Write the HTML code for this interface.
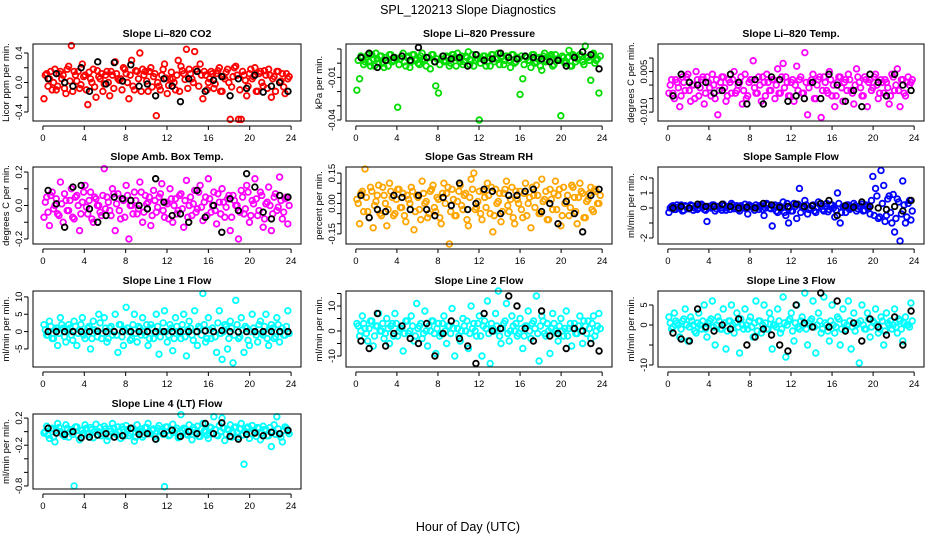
<!DOCTYPE html>
<html><head><meta charset="utf-8"><style>
html,body{margin:0;padding:0;background:#fff;}
svg{display:block;font-family:"Liberation Sans",sans-serif;}
</style></head><body>
<svg id="chart" width="936" height="540" viewBox="0 0 936 540" xmlns="http://www.w3.org/2000/svg">
<text x="468" y="14" text-anchor="middle" font-size="12.5">SPL_120213  Slope Diagnostics</text>
<text x="468" y="531" text-anchor="middle" font-size="12.5">Hour of Day (UTC)</text>
</svg>
<script>
// ---- data ----
const hourTicks = [0,4,8,12,16,20,24];
const co2Color = [-0.22,0.12,0.05,-0.1,0.18,-0.05,0.15,0.1,-0.15,0.22,0.5,0.15,0.02,-0.08,0.25,0.1,-0.3,0.05,0.18,-0.2,0.08,0.12,-0.02,0.15,-0.18,0.1,0.28,0.05,0.05,0.2,0.12,-0.22,0.3,-0.1,0.15,0.4,0.18,0.15,-0.12,0.2,0.08,-0.45,-0.05,0.1,0.25,-0.15,0.05,0.05,-0.1,0.3,0.22,0.12,0.45,0.18,0.05,0.42,0.15,0.25,-0.22,0.1,0.0,0.15,-0.08,0.12,0.2,-0.12,0.05,0.18,-0.5,0.08,0.22,-0.5,-0.5,0.1,-0.18,0.12,0.05,0.2,-0.12,0.15,-0.05,0.1,0.18,-0.2,0.08,0.15,0.0,0.12,-0.15,0.05];
const co2Core = [0.1,-0.05,0.15,0.0,-0.1,0.12,0.05,-0.08,0.18,0.02,-0.12,0.1,0.15,-0.03,0.08,-0.1,0.14,0.0,-0.06,0.16,0.05,-0.12,0.1,0.0,0.15,-0.08,0.12,0.03,-0.1,0.18,0.0,0.1,-0.05,0.16,0.05,-0.12,0.1,0.02,0.15,-0.06,0.12,0.0,-0.1,0.18,0.06,-0.04,0.14,0.0,0.1,-0.12,0.16,0.04,-0.08,0.12,0.0,0.18,-0.05,0.1,0.15,-0.1,0.05,0.12,-0.02,0.16,-0.12,0.08,0.14,0.0,-0.06,0.2,0.1,-0.1,0.15,0.03,-0.05,0.18,0.08,-0.12,0.12,0.0,0.16,-0.08,0.1,0.05,-0.12,0.15,0.02,-0.06,0.12,0.08];
const co2Black = [0.05,0.12,0.0,-0.05,0.2,-0.12,0.28,-0.02,0.27,0.02,0.24,-0.05,-0.02,-0.18,0.05,-0.05,-0.26,0.05,0.15,-0.12,0.03,0.08,-0.18,0.05,-0.08,0.1,-0.13,-0.05,0.0,-0.12];
const presColor = [-0.019,-0.011,0.004,0.001,0.006,-0.002,0.003,0.007,0.0,0.005,-0.003,0.002,0.006,0.001,0.004,-0.031,0.003,0.007,-0.002,0.005,0.001,0.006,0.003,-0.001,0.007,0.002,0.004,-0.004,0.006,-0.016,-0.021,0.003,0.001,0.005,-0.002,0.006,0.004,0.007,0.001,-0.001,0.005,0.008,0.002,-0.002,0.006,-0.04,0.003,0.005,0.001,-0.002,0.006,0.003,0.007,0.004,-0.001,0.005,0.002,0.006,0.0,0.004,-0.022,-0.011,0.005,0.002,-0.003,0.006,0.001,0.004,-0.005,0.007,0.002,0.005,-0.002,0.006,0.003,-0.037,0.004,0.001,0.009,-0.002,0.005,0.003,0.006,0.001,0.012,0.004,-0.012,0.007,0.002,-0.021];
const presCore = [0.002,0.005,-0.001,0.004,0.001,0.006,-0.002,0.003,0.005,0.0,0.004,-0.002,0.006,0.002,0.003,-0.001,0.005,0.001,0.004,-0.003,0.006,0.002,0.0,0.005,0.003,-0.002,0.004,0.006,0.001,0.003,-0.001,0.005,0.002,0.004,0.0,0.006,-0.002,0.003,0.005,0.001,0.004,-0.001,0.006,0.002,0.003,0.0,0.005,-0.002,0.004,0.006,0.001,0.003,-0.001,0.005,0.002,0.004,-0.003,0.006,0.001,0.003,0.005,-0.001,0.004,0.002,0.006,0.0,0.003,-0.002,0.005,0.001,0.004,0.006,-0.001,0.003,0.002,0.005,0.0,0.004,-0.002,0.006,0.001,0.003,0.005,-0.001,0.004,0.002,0.006,0.0,0.003,0.005];
const presBlack = [0.004,0.007,-0.003,0.002,0.004,0.005,0.002,0.011,0.004,0.001,0.005,0.003,0.004,-0.002,0.006,0.002,0.003,0.007,0.004,0.003,0.005,0.004,0.003,0.001,0.002,-0.002,0.004,0.008,0.006,-0.004];
const tempColor = [-0.003,0.002,-0.005,0.001,-0.008,0.003,-0.002,0.004,-0.006,0.0,0.005,-0.004,0.002,-0.007,0.003,-0.001,0.004,-0.005,-0.011,0.001,0.003,-0.006,0.002,-0.003,0.005,-0.002,0.001,-0.007,0.004,-0.004,0.002,0.009,-0.003,0.003,-0.006,0.001,0.004,-0.002,0.002,-0.005,0.006,-0.003,0.008,0.003,-0.004,0.001,-0.006,0.007,0.002,-0.003,0.012,-0.011,0.001,0.004,-0.005,0.002,-0.012,0.003,-0.002,0.005,-0.004,-0.008,0.001,0.003,-0.006,0.002,0.004,-0.002,-0.007,0.006,0.001,-0.004,0.003,-0.008,0.002,-0.001,0.004,-0.005,0.002,-0.003,0.001,-0.007,0.004,-0.002,0.006,-0.008,0.002,-0.004,0.003,0.001];
const tempCore = [0.0,-0.003,0.002,-0.001,-0.004,0.001,0.003,-0.002,0.0,-0.005,0.002,-0.001,0.003,-0.003,0.001,-0.004,0.0,0.002,-0.002,0.003,-0.001,-0.004,0.001,0.002,-0.003,0.0,0.003,-0.002,-0.005,0.001,0.002,-0.001,-0.003,0.0,0.003,-0.004,0.001,-0.002,0.002,0.0,-0.003,0.003,-0.001,0.001,-0.004,0.002,0.0,-0.002,0.003,-0.003,0.001,-0.001,0.002,-0.005,0.0,0.003,-0.002,0.001,-0.003,0.002,0.0,-0.004,0.003,-0.001,0.001,-0.002,0.002,-0.003,0.0,0.003,-0.001,-0.004,0.002,0.001,-0.002,0.003,0.0,-0.003,0.001,0.002,-0.001,-0.004,0.003,0.0,-0.002,0.002,-0.003,0.001,0.0,0.002];
const tempBlack = [-0.004,0.004,0.001,0.0,0.001,-0.003,-0.002,0.004,0.001,-0.007,0.002,-0.007,0.003,0.002,-0.006,-0.004,-0.005,0.001,-0.005,0.004,0.0,-0.006,-0.002,-0.008,0.004,0.001,-0.004,0.004,0.0,-0.002];
const ambColor = [-0.07,0.05,-0.12,0.08,0.0,-0.05,0.14,-0.1,0.03,-0.03,0.1,-0.08,0.06,-0.15,0.02,0.12,-0.05,0.08,-0.1,0.04,0.0,-0.06,0.22,0.05,-0.03,0.1,-0.15,0.07,-0.08,0.03,0.12,-0.2,0.0,0.08,-0.05,0.14,-0.1,0.06,0.02,-0.12,0.09,-0.04,0.05,0.13,-0.07,0.01,0.1,-0.1,0.04,-0.03,0.07,-0.13,0.15,0.0,-0.06,0.09,-0.02,0.12,-0.09,0.05,0.16,-0.04,0.08,-0.11,0.02,0.1,-0.07,0.04,-0.15,0.06,0.0,-0.2,0.09,-0.05,0.12,-0.1,0.03,0.16,-0.06,0.08,-0.13,0.01,0.11,-0.15,0.05,-0.03,0.17,-0.08,0.04,-0.11];
const ambCore = [0.02,-0.04,0.06,-0.02,0.04,-0.06,0.01,0.07,-0.03,0.03,-0.07,0.05,0.0,-0.05,0.08,-0.01,0.03,-0.08,0.05,0.0,-0.04,0.06,-0.02,0.02,-0.06,0.07,0.01,-0.03,0.04,-0.07,0.06,0.0,-0.05,0.03,-0.02,0.08,-0.04,0.01,0.05,-0.06,0.03,-0.01,0.07,-0.03,0.02,-0.08,0.04,0.0,-0.05,0.06,-0.02,0.03,-0.07,0.05,0.01,-0.04,0.08,-0.01,0.02,-0.06,0.04,0.0,-0.03,0.07,-0.05,0.02,-0.01,0.06,-0.07,0.03,0.0,-0.04,0.05,-0.02,0.08,-0.06,0.01,0.04,-0.03,0.06,-0.08,0.02,0.0,-0.05,0.07,-0.01,0.03,-0.04,0.05,0.0];
const ambBlack = [0.09,0.01,-0.13,0.11,0.12,-0.02,-0.1,-0.06,0.05,0.04,0.03,0.0,-0.02,0.16,0.02,-0.06,-0.05,-0.1,0.09,-0.07,0.0,-0.16,0.04,-0.03,0.19,0.11,-0.04,-0.08,0.06,0.05];
const rhColor = [0.02,-0.1,0.06,0.17,-0.04,0.08,-0.12,0.01,0.09,-0.06,0.04,-0.11,0.1,0.03,-0.05,0.07,-0.02,0.05,-0.09,0.02,0.08,-0.13,0.04,-0.03,0.11,0.0,-0.07,0.06,0.09,-0.04,0.02,-0.1,0.1,0.05,-0.2,0.07,-0.06,0.01,0.09,-0.03,0.05,-0.11,0.12,0.15,-0.02,0.06,-0.08,0.03,0.1,-0.05,-0.14,0.07,0.01,-0.09,0.05,0.11,-0.04,0.08,-0.1,0.02,0.06,-0.07,0.1,0.0,-0.12,0.04,0.09,-0.05,0.12,0.02,-0.08,0.07,-0.03,0.11,0.04,-0.11,0.08,0.01,-0.06,0.09,0.03,-0.1,0.1,0.05,-0.07,0.02,0.08,-0.04,0.06,0.0];
const rhCore = [0.0,0.05,-0.04,0.03,-0.07,0.06,-0.01,0.04,-0.05,0.08,0.0,-0.03,0.06,-0.06,0.02,0.07,-0.02,-0.06,0.04,0.0,0.06,-0.04,0.03,-0.08,0.05,0.01,-0.05,0.07,-0.02,0.03,-0.07,0.05,0.0,0.08,-0.04,0.02,-0.06,0.06,-0.01,0.04,-0.08,0.03,0.07,-0.03,0.01,-0.05,0.06,-0.02,0.04,0.08,-0.06,0.0,0.05,-0.04,0.07,-0.01,0.02,-0.07,0.06,0.0,-0.03,0.05,-0.06,0.03,0.08,-0.02,0.04,-0.05,0.01,0.06,-0.08,0.02,0.05,-0.03,0.07,-0.06,0.0,0.04,-0.02,0.08,-0.04,0.03,0.06,-0.07,0.01,0.05,-0.03,0.07,0.0,0.04];
const rhBlack = [0.04,-0.07,-0.03,-0.04,0.04,0.03,-0.03,0.04,-0.03,-0.06,0.03,-0.01,0.1,-0.03,0.0,0.07,0.06,-0.05,0.04,0.04,0.06,0.07,-0.04,0.0,-0.1,0.01,-0.05,-0.14,0.04,0.07];
const sampColor = [-0.3,0.1,-0.1,0.2,0.0,-0.2,0.15,-0.05,0.2,-0.15,0.1,0.0,0.25,-0.1,-0.9,0.05,0.2,-0.2,0.1,0.0,0.25,-0.15,0.1,0.3,-0.05,0.15,-0.2,0.05,0.25,-0.4,0.1,0.0,0.2,-0.1,0.15,-0.5,0.3,0.0,-1.2,0.2,-0.3,0.1,0.4,-0.5,-1.0,-0.2,0.3,-0.7,1.3,0.1,0.5,-0.4,0.0,0.2,-0.3,0.4,0.1,-0.2,0.3,-0.1,0.2,-0.6,1.0,-1.0,0.1,-0.3,0.2,0.0,0.3,-0.2,0.1,0.25,-0.15,0.1,-0.4,2.1,1.3,-0.7,2.5,1.5,-0.5,0.8,-1.0,-1.6,0.6,-2.2,1.8,-1.0,0.3,-0.8];
const sampCore = [0.0,0.15,-0.1,0.05,0.2,-0.15,0.1,-0.05,0.15,0.0,-0.1,0.2,0.05,-0.15,0.1,0.0,0.2,-0.05,0.1,-0.15,0.15,0.0,-0.1,0.2,0.05,-0.1,0.15,0.0,-0.05,0.2,0.1,-0.15,0.05,0.15,-0.1,0.0,0.2,-0.05,0.1,-0.2,0.15,0.0,-0.3,0.3,0.05,-0.2,0.1,0.25,-0.3,0.0,0.2,-0.1,0.15,-0.2,0.05,0.25,-0.1,0.1,-0.25,0.2,0.0,-0.15,0.3,-0.3,0.1,0.2,-0.1,0.05,0.15,-0.05,0.1,-0.2,0.2,0.0,0.5,-0.5,0.8,-0.6,0.3,-0.9,0.6,-0.3,0.9,-0.7,0.4,-0.4,0.2,-0.6,0.5,-0.2];
const sampBlack = [0.0,0.1,0.0,0.25,0.1,0.1,0.25,0.1,0.0,0.05,0.0,0.3,0.2,0.05,0.1,0.25,0.1,0.15,0.3,0.5,-0.5,0.15,0.05,0.4,0.1,0.0,-0.1,0.1,-0.2,0.5];
const l1Color = [2,-1,3,-2,0.5,-4,4,1,-3,2,-1,3,-4,0.5,4,-2,1,-5,3,0,5,-2,4,-3,1,-1,5,-6,2,-4,7,0,-2,5,-3,1,4,-1,-4,2,-2,5,-6.5,0,6,-3,2,-5.5,4,0,-2,5,-7,3,-1,6,-4,1,11,-3,4,-2,0,-6,6,-8,2,-5,3,-9,9,-2,4,-6,1,-4,5,0,-3,3,-1,5,-4,2,-2,4,-3,1,-1,6];
const l1Core = [0.5,-1,1.5,-2,1,-0.5,2,-1.5,0.5,1,-2.5,1.5,-0.5,2,-1,0,1.5,-2,0.5,-1.5,2.5,-0.5,1,-2,1.5,0,-1,2,-1.5,0.5,1,-2.5,2,-0.5,1.5,-1,0,2,-2,1,-0.5,1.5,-1.5,2.5,0,-1,1,-2,1.5,-0.5,2,-1.5,0.5,1,-2.5,0,1.5,-1,2,-2,0.5,1,-1.5,2.5,-0.5,0,1.5,-2,1,-1,2,-1.5,0.5,1.5,-2.5,0,1,-1,2,-0.5,1.5,-2,0.5,1,-1.5,2,0,-1,1.5,-0.5];
const l1Black = [0,0,0,0,0,0,0.1,0,0,0,0,0,0,0,0,0,0,0,0,0.2,0,0.3,0,-0.1,0,0,0,0,0,0];
const l2Color = [3,-2,6,1,-4,4,-6,2,7,0,-3,5,-5,3,7,-2,1,-8,4,-1,6,-4,11,2,-3,8,-6,0,4,-9,3,-1,6,-5,2,9,-10,1,-4,5,0,-7,10,3,-2,6,-10,4,12,-13,1,7,16,-5,3,11,-4,6,0,-2,5,-7,2,8,-3,4,14,-12,6,-1,3,-9,7,0,-4,5,-2,8,1,-6,3,-1,6,-5,2,4,-3,6,0,7];
const l2Core = [2,0,3,-1,1,4,-2,2,0,3,-1,1,2,-2,3,0,1,-1,4,0,2,-2,1,3,-1,0,2,4,-1,1,-2,3,0,2,-1,1,3,-2,0,2,4,-1,1,0,3,-2,2,1,-1,3,0,2,-2,1,4,-1,0,2,3,-1,1,-2,2,0,3,1,-1,2,4,-2,0,1,3,-1,2,0,1,-2,3,1,-1,2,0,4,-1,1,3,-2,2,1];
const l2Black = [-4,-7,7,-6,-1,2,-3,-5,3,-10,-1,4,-3,-6,-13,7,0,1,14,10,1,-4,8,-2,-1,-7,1,0,-5,-8];
const l3Color = [2,-1,3,0.5,-3,1,4,-4,2,0,-2,3,-1,5,-3,1,6,-5,2,-1,4,-6,1,5,-2,3,-7,0,4,-1,2,-3,6,1,-2,5,-1,3,-6,0,4,-2,7,-8,1,3,-4,5,-1,2,8,-5,1,6,-7,3,-2,7,0,-4,5,-2,2,-5,4,-1,6,-6,3,0,-9.5,5,-1,3,-3,1,4,-2,2,-5,3,0,-1,4,-2,1,-4,2,0,5.5];
const l3Core = [0.5,-0.5,1,0,-1,1.5,0,-0.5,1,-1.5,0.5,0,1,-1,0.5,1.5,-0.5,0,1,-1,0.5,-1.5,1,0,0.5,-0.5,1.5,-1,0,1,-0.5,0.5,-1.5,1,0,0.5,-1,1.5,0,-0.5,1,-1,0.5,0,1.5,-1.5,0.5,-0.5,1,0,-1,0.5,1.5,-0.5,0,1,-1,0.5,-1.5,1,0,-0.5,1.5,-1,0.5,0,1,-0.5,-1.5,0.5,1,0,-1,1.5,-0.5,0.5,0,-1,1,-1.5,0.5,1,0,-0.5,1.5,-1,0.5,0,-0.5,1];
const l3Black = [-2,-3.5,-4,4,-0.5,-1.5,0,-1,1.5,-5,-3,-1,-2.5,-5,-6.5,5,0.5,-0.5,8,-0.5,6,-1.5,0.5,-4,1.5,-0.5,-2.5,2,-5,3.5];
const l4Color = [-0.02,0.08,-0.1,0.05,-0.15,0.12,0.0,-0.05,0.1,-0.08,0.03,-0.8,0.07,-0.12,0.02,0.1,-0.04,0.06,-0.09,0.11,0.0,-0.06,0.08,-0.13,0.04,0.12,-0.02,0.07,-0.1,0.03,0.09,-0.06,0.05,-0.14,0.1,0.01,-0.08,0.06,0.12,-0.03,0.04,-0.11,0.09,0.0,-0.81,0.07,-0.05,0.11,0.02,-0.09,0.25,0.05,-0.04,0.1,-0.12,0.03,0.08,-0.07,0.12,0.0,-0.1,0.06,0.22,-0.05,0.09,0.2,-0.13,0.04,0.1,-0.02,0.07,-0.08,0.12,-0.48,0.05,-0.1,0.09,0.0,0.06,-0.12,0.08,0.03,-0.06,-0.22,0.1,0.22,-0.04,-0.15,0.07,0.0];
const l4Core = [0.0,-0.05,0.04,-0.08,0.02,0.06,-0.03,-0.07,0.05,0.0,-0.04,0.07,-0.06,0.02,-0.02,0.05,-0.08,0.03,0.0,-0.05,0.06,-0.03,0.04,-0.07,0.01,0.05,-0.04,0.0,0.07,-0.06,0.03,-0.02,0.05,-0.08,0.0,0.04,-0.05,0.06,-0.03,0.02,-0.07,0.05,0.0,-0.04,0.07,-0.06,0.03,-0.01,0.05,-0.08,0.02,0.04,-0.05,0.0,0.06,-0.03,-0.07,0.04,0.01,-0.05,0.07,-0.02,0.03,-0.06,0.0,0.05,-0.04,0.02,-0.08,0.06,-0.01,0.04,-0.05,0.0,0.07,-0.03,0.02,-0.07,0.05,-0.02,0.03,-0.06,0.06,0.0,-0.04,0.04,-0.08,0.02,0.05,-0.03];
const l4Black = [0.05,-0.02,-0.04,0.0,-0.09,-0.08,-0.05,-0.03,-0.08,-0.06,0.05,-0.04,-0.03,-0.11,-0.03,0.02,-0.07,0.0,-0.03,0.12,-0.03,0.13,-0.07,-0.11,-0.04,-0.02,-0.06,-0.01,-0.03,0.02];

// ---- layout ----
const cols = [[33,301],[346,612],[658,924]];
const rows = [[44,121],[167,244],[291,367],[414,489]];
const panels = [
 {name:'co2',title:'Slope Li\u2013820 CO2',ylab:'Licor ppm per min.',c:0,r:0,y0:-0.522,y1:0.522,ticks:[-0.4,-0.2,0,0.2,0.4],labels:['-0.4','0.0','0.4'],lv:[-0.4,0,0.4],col:'#ff0000',v:co2Color,k:co2Core,b:co2Black},
 {name:'pressure',title:'Slope Li\u2013820 Pressure',ylab:'kPa per min.',c:1,r:0,y0:-0.0407,y1:0.0135,ticks:[-0.04,-0.03,-0.02,-0.01,0,0.01],labels:['-0.04','-0.01'],lv:[-0.04,-0.01],col:'#00dd00',v:presColor,k:presCore,b:presBlack},
 {name:'temp',title:'Slope Li\u2013820 Temp.',ylab:'degrees C per min.',c:2,r:0,y0:-0.0133,y1:0.0152,ticks:[-0.01,-0.005,0,0.005,0.01],labels:['-0.010','0.005'],lv:[-0.01,0.005],col:'#ff00ff',v:tempColor,k:tempCore,b:tempBlack},
 {name:'amb-box-temp',title:'Slope Amb. Box Temp.',ylab:'degrees C per min.',c:0,r:1,y0:-0.23,y1:0.23,ticks:[-0.2,-0.1,0,0.1,0.2],labels:['-0.2','0.0','0.2'],lv:[-0.2,0,0.2],col:'#ff00ff',v:ambColor,k:ambCore,b:ambBlack},
 {name:'gas-rh',title:'Slope Gas Stream RH',ylab:'percent per min.',c:1,r:1,y0:-0.2,y1:0.18,ticks:[-0.15,-0.1,-0.05,0,0.05,0.1,0.15],labels:['-0.15','0.00','0.15'],lv:[-0.15,0,0.15],col:'#ffa500',v:rhColor,k:rhCore,b:rhBlack},
 {name:'sample-flow',title:'Slope Sample Flow',ylab:'ml/min per min.',c:2,r:1,y0:-2.4,y1:2.73,ticks:[-2,-1,0,1,2],labels:['-2','0','1','2'],lv:[-2,0,1,2],col:'#0000ff',v:sampColor,k:sampCore,b:sampBlack},
 {name:'line1-flow',title:'Slope Line 1 Flow',ylab:'ml/min per min.',c:0,r:2,y0:-10.2,y1:11.7,ticks:[-5,0,5,10],labels:['-5','0','5','10'],lv:[-5,0,5,10],col:'#00ffff',v:l1Color,k:l1Core,b:l1Black},
 {name:'line2-flow',title:'Slope Line 2 Flow',ylab:'ml/min per min.',c:1,r:2,y0:-14.4,y1:16,ticks:[-10,-5,0,5,10,15],labels:['-10','0','10'],lv:[-10,0,10],col:'#00ffff',v:l2Color,k:l2Core,b:l2Black},
 {name:'line3-flow',title:'Slope Line 3 Flow',ylab:'ml/min per min.',c:2,r:2,y0:-10.5,y1:8.5,ticks:[-10,-5,0,5],labels:['-10','0','5'],lv:[-10,0,5],col:'#00ffff',v:l3Color,k:l3Core,b:l3Black},
 {name:'line4-flow',title:'Slope Line 4 (LT) Flow',ylab:'ml/min per min.',c:0,r:3,y0:-0.845,y1:0.26,ticks:[-0.8,-0.6,-0.4,-0.2,0,0.2],labels:['-0.8','-0.2','0.2'],lv:[-0.8,-0.2,0.2],col:'#00ffff',v:l4Color,k:l4Core,b:l4Black}
];
const NS='http://www.w3.org/2000/svg';
const svg=document.getElementById('chart');
function mk(tag,attrs,parent){const e=document.createElementNS(NS,tag);for(const k in attrs)e.setAttribute(k,attrs[k]);parent.appendChild(e);return e;}
panels.forEach(p=>{
  const [xl,xr]=cols[p.c],[yt,yb]=rows[p.r];
  const xs=t=>xl+(t+0.96)/25.92*(xr-xl);
  const ys=v=>yb-(v-p.y0)/(p.y1-p.y0)*(yb-yt);
  const g=mk('g',{},svg);
  
  
  const t=mk('text',{x:(xl+xr)/2,y:yt-7,'text-anchor':'middle','font-size':'10.5','font-weight':'bold'},g);t.textContent=p.title;
  
  
  const yl=mk('text',{x:0,y:0,'text-anchor':'middle','font-size':'9.5',transform:`translate(${xl-24},${(yt+yb)/2}) rotate(-90)`},g);yl.textContent=p.ylab;
  
  
  // points
  const pts=mk('g',{fill:'none','stroke-width':'1.8'},g);
  
  
  p.v.forEach((v,i)=>{const c=mk('circle',{cx:xs(0.1+i*0.265),cy:ys(v),r:2.8,stroke:p.col},pts);
    
    });
  p.k.forEach((v,i)=>{const c=mk('circle',{cx:xs(0.23+i*0.265),cy:ys(v),r:2.8,stroke:p.col},pts);
    
    });
  const bk=mk('g',{fill:'none','stroke-width':'1.8',stroke:'#000'},g);
  
  
  p.b.forEach((v,i)=>{const c=mk('circle',{cx:xs(0.5+i*0.8),cy:ys(v),r:2.8},bk);
    
    });
  // box
  const box=mk('rect',{x:xl,y:yt,width:xr-xl,height:yb-yt,fill:'none',stroke:'#000','stroke-width':'1'},g);
  
  
  // x axis
  mk('line',{x1:xs(0),x2:xs(24),y1:yb+5,y2:yb+5,stroke:'#000'},g);
  hourTicks.forEach(h=>{mk('line',{x1:xs(h),x2:xs(h),y1:yb+5,y2:yb+9,stroke:'#000'},g);
    const tx=mk('text',{x:xs(h),y:yb+20,'text-anchor':'middle','font-size':'9.5'},g);tx.textContent=h;
    
    });
  // y axis
  const tmin=Math.min(...p.ticks),tmax=Math.max(...p.ticks);
  mk('line',{x1:xl-5,x2:xl-5,y1:ys(tmin),y2:ys(tmax),stroke:'#000'},g);
  p.ticks.forEach(v=>mk('line',{x1:xl-9,x2:xl-5,y1:ys(v),y2:ys(v),stroke:'#000'},g));
  p.lv.forEach((v,i)=>{const tx=mk('text',{x:0,y:0,'text-anchor':'middle','font-size':'9.5',transform:`translate(${xl-11},${ys(v)}) rotate(-90)`},g);tx.textContent=p.labels[i];
    
    });
});
</script>
</body></html>
